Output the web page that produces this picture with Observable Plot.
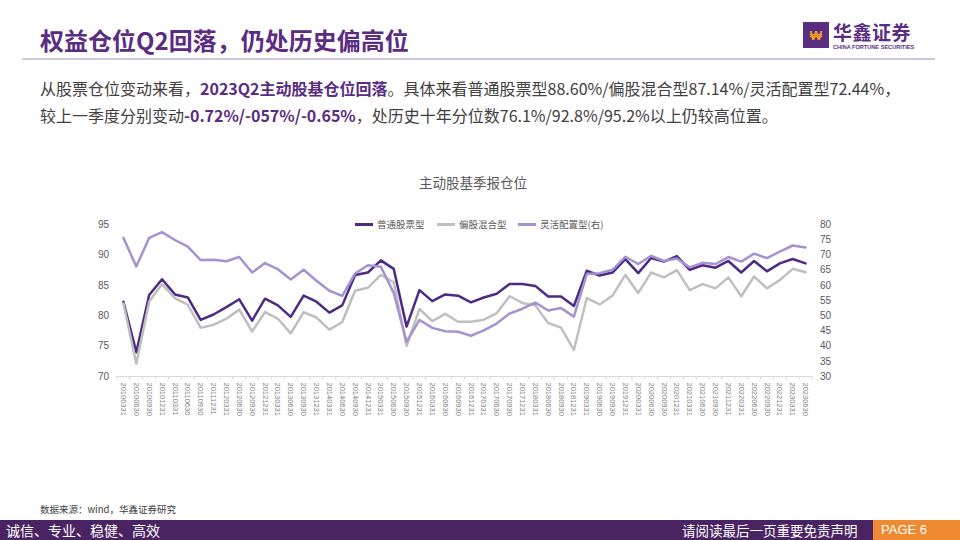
<!DOCTYPE html>
<html><head><meta charset="utf-8">
<script src="https://cdn.jsdelivr.net/npm/d3@7"></script>
<script src="https://cdn.jsdelivr.net/npm/@observablehq/plot@0.6"></script>
<style>
body{margin:0;width:960px;height:540px;position:relative;overflow:hidden;background:#fff;font-family:"Noto Sans CJK SC","Noto Sans",sans-serif;}
.abs{position:absolute;white-space:nowrap;}
#title{left:40px;top:24px;font-size:24px;font-weight:bold;color:#5a2d82;line-height:32px;}
#rule{left:22px;top:58px;width:913px;height:2px;background:#cfc8dc;}
.para{left:40px;font-size:16px;color:#404040;line-height:24px;}
.para b{color:#5a2d82;}
#ctitle{left:0;width:946px;text-align:center;top:172px;font-size:13.5px;color:#595959;}
.leg{top:217px;font-size:9.5px;color:#595959;line-height:14px;}
.leg i{display:inline-block;width:18px;height:2.5px;vertical-align:middle;margin-right:4px;position:relative;top:-1px;}
#src{left:40px;top:502px;font-size:9.5px;color:#404040;}
#bar{left:0;top:520px;width:960px;height:20px;background:#4a2462;}
#motto{left:6px;top:520px;font-size:14px;color:#fff;line-height:20px;}
#disc{left:682px;top:520px;font-size:13.5px;color:#fff;line-height:20px;}
#page{left:873px;top:520px;width:87px;height:20px;background:#ef8a32;color:#fff;font-size:13px;line-height:20px;font-family:"Liberation Sans","Noto Sans CJK SC";padding-left:8px;box-sizing:border-box;}
#logobox{left:803px;top:22px;width:26px;height:26px;background:#5a2d82;}
#logoname{left:833px;top:21px;font-size:19px;font-weight:bold;color:#5a2d82;line-height:22px;letter-spacing:0.5px;}
#logoen{left:833px;top:44px;font-size:5.6px;line-height:7px;color:#5a2d82;font-family:"Liberation Sans";font-weight:bold;}
</style></head><body>
<div class="abs" id="title">权益仓位Q2回落，仍处历史偏高位</div>
<div class="abs" id="logobox"><svg width="26" height="26"><text x="13" y="18" text-anchor="middle" font-size="13" fill="#f0a020" font-weight="bold" font-family="Liberation Sans">₩</text></svg></div>
<div class="abs" id="logoname">华鑫证券</div>
<div class="abs" id="logoen">CHINA FORTUNE SECURITIES</div>
<div class="abs" id="rule"></div>
<div class="abs para" style="top:76px">从股票仓位变动来看，<b>2023Q2主动股基仓位回落</b>。具体来看普通股票型88.60%/偏股混合型87.14%/灵活配置型72.44%，</div>
<div class="abs para" style="top:103px">较上一季度分别变动<b>-0.72%/-057%/-0.65%</b>，处历史十年分位数76.1%/92.8%/95.2%以上仍较高位置。</div>
<div class="abs" id="ctitle">主动股基季报仓位</div>
<div class="abs leg" style="left:355px"><i style="background:#4e2a84"></i>普通股票型</div>
<div class="abs leg" style="left:437px"><i style="background:#bfbfbf"></i>偏股混合型</div>
<div class="abs leg" style="left:518px"><i style="background:#a493d0"></i>灵活配置型(右)</div>
<div class="abs" id="chart" style="left:0;top:170px"></div>
<div class="abs" id="src">数据来源：wind，华鑫证券研究</div>
<div class="abs" id="bar"></div>
<div class="abs" id="motto">诚信、专业、稳健、高效</div>
<div class="abs" id="disc">请阅读最后一页重要免责声明</div>
<div class="abs" id="page">PAGE 6</div>
<script>
const quarters = ["20100331","20100630","20100930","20101231","20110331","20110630","20110930","20111231",
"20120331","20120630","20120930","20121231","20130331","20130630","20130930","20131231",
"20140331","20140630","20140930","20141231","20150331","20150630","20150930","20151231",
"20160331","20160630","20160930","20161231","20170331","20170630","20170930","20171231",
"20180331","20180630","20180930","20181231","20190331","20190630","20190930","20191231",
"20200331","20200630","20200930","20201231","20210331","20210630","20210930","20211231",
"20220331","20220630","20220930","20221231","20230331","20230630"];
const stockFund = [82.3,74.0,83.4,86.0,83.5,83.0,79.3,80.2,81.4,82.7,79.2,82.8,81.7,79.8,83.3,82.3,
80.5,81.7,86.7,87.1,89.1,87.7,78.2,84.2,82.4,83.5,83.3,82.2,83.0,83.6,85.2,85.2,
84.9,83.15,83.15,81.6,87.4,86.6,87.1,89.3,87.0,89.5,88.9,89.8,87.55,88.3,87.9,89.0,
87.1,89.0,87.3,88.6,89.32,88.60];
const mixedFund = [82.0,72.1,82.3,85.2,82.9,81.8,78.0,78.5,79.5,81.0,77.4,80.6,79.5,77.1,80.6,79.7,
77.7,78.95,84.1,84.6,86.7,85.5,75.0,81.1,79.1,80.3,79.0,79.0,79.35,80.4,83.2,82.1,
81.7,78.8,78.05,74.35,82.9,81.85,83.3,86.7,83.75,87.1,86.3,87.5,84.2,85.2,84.5,86.3,
83.2,86.45,84.5,85.85,87.71,87.14];
const flexFund = [75.6,66.2,75.6,77.5,74.9,72.7,68.3,68.4,67.9,69.3,64.2,67.3,65.3,61.9,65.1,61.5,
58.2,56.5,63.9,66.6,66.1,57.5,41.4,48.6,46.0,44.9,44.7,43.4,45.2,47.4,50.7,52.3,
54.3,51.7,52.5,49.7,63.7,64.0,65.1,69.4,67.0,69.7,68.0,68.8,65.9,67.4,67.0,69.3,
67.8,70.4,68.95,71.1,73.09,72.44];
const leftTicks = [70,75,80,85,90,95];
const rightTicks = [30,35,40,45,50,55,60,65,70,75,80];

const rows = quarters.map((q,i)=>({q, stock:stockFund[i], mixed:mixedFund[i], flex:flexFund[i]}));
const toLeft = r => (r-30)/2+70;
const fromLeft = l => Math.round((l-70)*2+30);
const plotLeft = 116.5, plotRight = 811.5;
const halfStep = (plotRight - plotLeft) / quarters.length / 2;

const chart = Plot.plot({
  width:960, height:290,
  marginLeft:plotLeft, marginRight:960-plotRight, marginTop:54, marginBottom:84,
  x:{type:"point", domain:quarters, padding:0.5, align:0.5},
  y:{domain:[70,95]},
  style:{fontFamily:"'Liberation Sans','Noto Sans CJK SC',sans-serif", background:"transparent", overflow:"visible"},
  marks:[
    Plot.ruleY([70], {stroke:"#d9d9d9", strokeWidth:1}),
    Plot.ruleX(quarters, {x:d=>d, y1:70, y2:69.4, dx:-halfStep, stroke:"#d9d9d9", strokeWidth:1}),
    Plot.ruleX([quarters[quarters.length-1]], {x:d=>d, y1:70, y2:69.4, dx:halfStep, stroke:"#d9d9d9", strokeWidth:1}),
    Plot.axisY(leftTicks, {anchor:"left", tickSize:0, tickPadding:8, fontSize:10, color:"#595959", label:null}),
    Plot.axisY(rightTicks.map(toLeft), {anchor:"right", tickSize:0, tickPadding:8, fontSize:10, color:"#595959", label:null, tickFormat:fromLeft}),
    Plot.axisX({tickRotate:90, tickSize:0, tickPadding:6, fontSize:7.5, color:"#7f7f7f", label:null}),
    Plot.line(rows, {x:"q", y:"stock", stroke:"#4e2a84", strokeWidth:2.5}),
    Plot.line(rows, {x:"q", y:"mixed", stroke:"#bfbfbf", strokeWidth:2.5}),
    Plot.line(rows, {x:"q", y:d=>toLeft(d.flex), stroke:"#a493d0", strokeWidth:2.5})
  ]
});
document.getElementById("chart").appendChild(chart);
</script>
</body></html>
